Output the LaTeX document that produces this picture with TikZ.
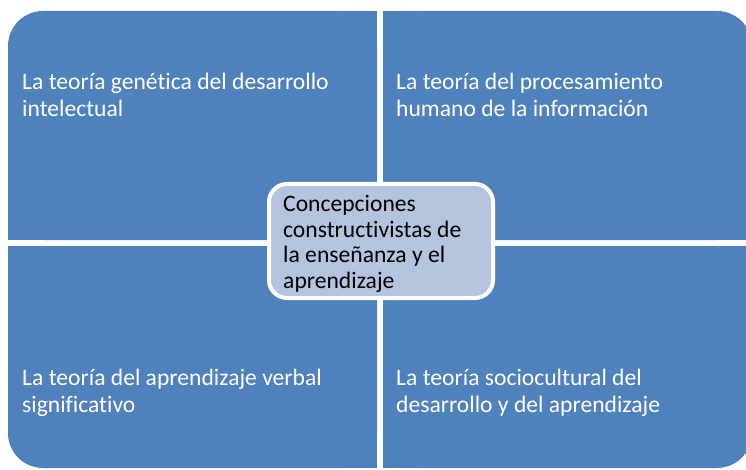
\documentclass[tikz,border=0pt]{standalone}
\usepackage{fontspec}
\setmainfont{Carlito}[Ligatures={NoCommon}]
\definecolor{qblue}{HTML}{4F81BD}
\definecolor{cfill}{HTML}{B4C4DF}
\begin{document}
\begin{tikzpicture}[x=1pt,y=-1pt,
  quad/.style={fill=qblue},
  qtext/.style={anchor=base west, inner sep=0pt, text=white, font=\fontsize{23.6}{27}\selectfont},
  ctext/.style={anchor=base west, inner sep=0pt, text=black, font=\fontsize{23.6}{25.5}\selectfont},
  centerbox/.style={draw=white, line width=4pt, rounded corners=18pt, fill=cfill, minimum width=224pt, minimum height=114pt, inner sep=0pt}]
\useasboundingbox (0,0) rectangle (746,470);
\clip (0,0) rectangle (746,470);
% top left
\fill[quad, rounded corners=35pt] (8,11) rectangle (377,240);
\fill[quad] (80,11) rectangle (377,240);
\fill[quad] (8,80) rectangle (377,240);
% top right
\fill[quad, rounded corners=35pt] (383,11) rectangle (752,240);
\fill[quad] (383,11) rectangle (680,240);
\fill[quad] (383,80) rectangle (752,240);
% bottom left
\fill[quad, rounded corners=35pt] (8,246) rectangle (377,468);
\fill[quad] (80,246) rectangle (377,468);
\fill[quad] (8,246) rectangle (377,400);
% bottom right
\fill[quad, rounded corners=35pt] (383,246) rectangle (752,468);
\fill[quad] (383,246) rectangle (680,468);
\fill[quad] (383,246) rectangle (752,400);
% texts
\node[qtext] (tl) at (22,90) {\parbox[t]{350pt}{\raggedright La teoría genética del desarrollo\\intelectual}};
\node[qtext] (tr) at (396,90) {\parbox[t]{350pt}{\raggedright La teoría del procesamiento\\humano de la información}};
\node[qtext] (bl) at (22,385) {\parbox[t]{350pt}{\raggedright La teoría del aprendizaje verbal\\significativo}};
\node[qtext] (br) at (396,385) {\parbox[t]{350pt}{\raggedright La teoría sociocultural del\\desarrollo y del aprendizaje}};
% center
\node[centerbox] (center) at (381,241) {};
\node[ctext] (centertext) at (283,212) {\parbox[t]{210pt}{\raggedright Concepciones\\constructivistas de\\la enseñanza y el\\aprendizaje}};
\end{tikzpicture}
\end{document}
